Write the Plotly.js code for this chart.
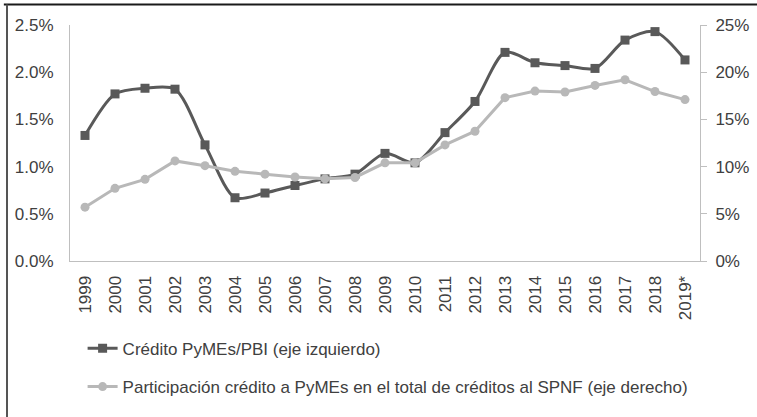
<!DOCTYPE html>
<html><head><meta charset="utf-8">
<script src="https://cdn.plot.ly/plotly-3.0.1.min.js"></script>
<style>html,body{margin:0;padding:0;background:#fff}#chart{width:757px;height:417px}</style>
</head><body><div id="chart"></div>
<script>
const years = ["1999","2000","2001","2002","2003","2004","2005","2006","2007","2008","2009","2010","2011","2012","2013","2014","2015","2016","2017","2018","2019*"];
const creditoPBI = [0.0133,0.0177,0.0183,0.0182,0.0123,0.0067,0.0072,0.0080,0.0087,0.0092,0.0114,0.0104,0.0136,0.0169,0.0221,0.0210,0.0207,0.0204,0.0234,0.0243,0.0213];
const participacion = [0.057,0.077,0.0865,0.106,0.101,0.095,0.092,0.089,0.087,0.0885,0.104,0.104,0.123,0.1375,0.173,0.180,0.179,0.186,0.192,0.1795,0.171];
const name1 = "Crédito PyMEs/PBI (eje izquierdo)";
const name2 = "Participación crédito a PyMEs en el total de créditos al SPNF (eje derecho)";

const FONT = "'Liberation Sans', Arial, sans-serif";
const TXT = "#404040";
const AX = "#bfbfbf";

const traces = [
 {x: years, y: creditoPBI, name: name1, type: "scatter", mode: "lines+markers",
  line: {color: "#595959", width: 3, shape: "spline", smoothing: 0.8},
  marker: {symbol: "square", size: 9, color: "#595959"},
  yaxis: "y", legend: "legend"},
 {x: years, y: participacion, name: name2, type: "scatter", mode: "lines+markers",
  line: {color: "#b8b8b8", width: 3},
  marker: {symbol: "circle", size: 9, color: "#b8b8b8"},
  yaxis: "y2", legend: "legend2"}
];

const layout = {
 width: 757, height: 417,
 margin: {l: 70, r: 57, t: 25, b: 150},
 paper_bgcolor: "#fff", plot_bgcolor: "#fff",
 font: {family: FONT, size: 17, color: TXT},
 showlegend: true,
 xaxis: {type: "category", range: [-0.5, 20.5], showline: true, linecolor: AX, linewidth: 1,
   showgrid: false, zeroline: false, ticks: "", tickangle: -90, ticklabelstandoff: 7,
   tickfont: {family: FONT, size: 17, color: TXT}, fixedrange: true},
 yaxis: {range: [0, 0.025], dtick: 0.005, tickformat: ".1%", showline: true, linecolor: AX,
   showgrid: false, zeroline: false, ticks: "", ticklabelstandoff: 12,
   tickfont: {family: FONT, size: 17, color: TXT}},
 yaxis2: {range: [0, 0.25], dtick: 0.05, tickformat: ".0%", overlaying: "y", side: "right",
   showline: true, linecolor: AX, showgrid: false, zeroline: false,
   ticks: "outside", ticklen: 6, tickcolor: AX, ticklabelstandoff: 5,
   tickfont: {family: FONT, size: 17, color: TXT}},
 legend: {x: 0.02, xanchor: "left", y: -0.372, yanchor: "middle", bgcolor: "rgba(0,0,0,0)",
   font: {family: FONT, size: 17, color: TXT}},
 legend2: {x: 0.02, xanchor: "left", y: -0.534, yanchor: "middle", bgcolor: "rgba(0,0,0,0)",
   font: {family: FONT, size: 17, color: TXT}},
 shapes: [
  {type: "line", xref: "paper", yref: "paper", x0: -0.105, x1: 1.1, y0: 1.0868, y1: 1.0868,
   line: {color: "#1a1a1a", width: 2}},
  {type: "line", xref: "paper", yref: "paper", x0: -0.1, x1: -0.1, y0: 1.0868, y1: -0.7,
   line: {color: "#555", width: 2}}
 ]
};
Plotly.newPlot("chart", traces, layout, {displayModeBar: false, staticPlot: true});
</script></body></html>
